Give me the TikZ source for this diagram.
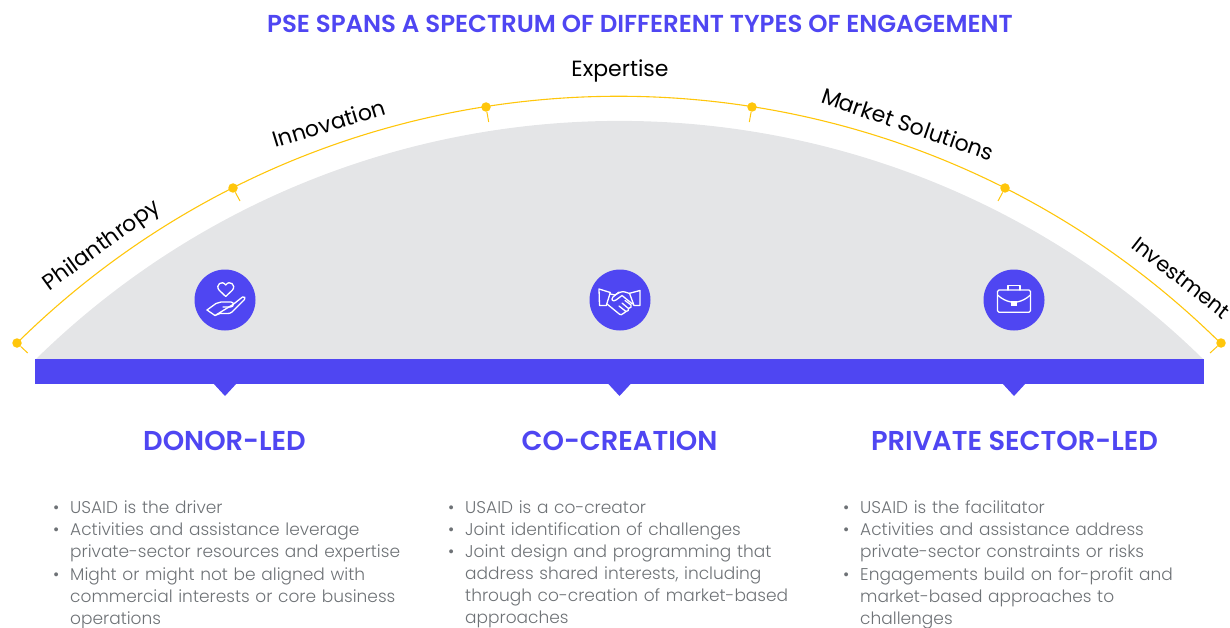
\documentclass[tikz,border=0pt]{standalone}
\usepackage{fontspec}
\setmainfont{Poppins}
\newfontfamily\semifont{Poppins SemiBold}
\newfontfamily\lightfont{Poppins Light}
\definecolor{brand}{HTML}{4F46F2}
\definecolor{sun}{HTML}{FFC60B}
\definecolor{dome}{HTML}{E4E5E7}
\definecolor{ink}{HTML}{6E7276}
\newcommand{\bl}[1]{\par\noindent\hbox to 17pt{\strut•\hfil}\parbox[t]{330pt}{\raggedright\strut #1\strut}}
\tikzset{
 arclabel/.style={font=\fontsize{22}{26}\selectfont,text=black,inner sep=0pt},
 head/.style={font=\fontsize{27.3}{32}\selectfont\semifont,text=brand,inner sep=0pt},
 titletext/.style={font=\fontsize{24.5}{30}\selectfont\semifont,text=brand,inner sep=0pt},
 body/.style={font=\fontsize{17}{22}\selectfont\lightfont,text=ink,inner sep=0pt,anchor=north west,align=left,text width=350pt},
 badge/.style={circle,fill=brand,minimum size=61pt,inner sep=0pt},
 dot/.style={circle,fill=sun,minimum size=9.5pt,inner sep=0pt},
 tick/.style={draw=sun,line width=1pt},
 icon/.style={draw=white,line width=1.3pt,line join=round,line cap=round,fill=none},
 pin/.style={fill=brand}
}
\begin{document}
\begin{tikzpicture}[x=1pt,y=-1pt]
\useasboundingbox (0,0) rectangle (1230,628);
% dome and yellow arc (concentric circles)
\fill[dome] (35,360) arc[start angle=134.5,end angle=45.5,radius=834pt] -- cycle;
\draw[sun,line width=1.1pt] (17,343) arc[start angle=134.6,end angle=45.4,radius=857pt];
% bar and pins
\node[fill=brand,minimum width=1169pt,minimum height=25pt,inner sep=0pt,anchor=north west] (bar) at (35,359) {};
\fill[pin] (213,383) -- (237,383) -- (225,396) -- cycle;
\fill[pin] (607.5,383) -- (631.5,383) -- (619.5,396) -- cycle;
\fill[pin] (1002,383) -- (1026,383) -- (1014,396) -- cycle;
% dots and ticks
\node[dot] (d1) at (17,343) {}; \coordinate (t1) at (27.7,353);
\node[dot] (d2) at (233,188) {}; \coordinate (t2) at (240,201);
\node[dot] (d3) at (486,107) {}; \coordinate (t3) at (488.7,122);
\node[dot] (d4) at (752,107) {}; \coordinate (t4) at (749.3,122);
\node[dot] (d5) at (1005,188) {}; \coordinate (t5) at (998,201);
\node[dot] (d6) at (1221,343) {}; \coordinate (t6) at (1210,353);
\foreach \i in {1,...,6} \draw[tick] (d\i) -- (t\i);
% texts
\node[titletext] (title) at (640,24) {PSE SPANS A SPECTRUM OF DIFFERENT TYPES OF ENGAGEMENT};
\node[arclabel,rotate=36] (l1) at (102,246) {Philanthropy};
\node[arclabel,rotate=17] (l2) at (329,123) {Innovation};
\node[arclabel] (l3) at (620,71) {Expertise};
\node[arclabel,rotate=-19] (l4) at (908,124) {Market Solutions};
\node[arclabel,rotate=-38,font=\fontsize{21}{25}\selectfont] (l5) at (1181,278) {Investment};
% badges
\node[badge] (b1) at (225,300) {};
\node[badge] (b2) at (620,300) {};
\node[badge] (b3) at (1014,300) {};
% hand and heart
\begin{scope}[shift={(225,300)}]
\draw[icon] (0.7,-3.5) -- (-6,-10) .. controls (-10,-15) and (-3,-20.5) .. (0.7,-15) .. controls (4.5,-20.5) and (11.5,-15) .. (7.5,-10) -- cycle;
\draw[icon] (-18,10) -- (-9,3.5) .. controls (-7,2) and (-6,2) .. (-4,2) -- (6,2) .. controls (9.5,2) and (9,7) .. (5.5,7) -- (-2,7);
\draw[icon] (8,4.5) -- (17.5,-3) .. controls (19.5,-4) and (21,-2) .. (19.5,-0.5) -- (7,12) .. controls (5.5,13.5) and (4,13.5) .. (2,13.5) -- (-5,13.5) -- (-10,15.5) -- cycle;
\draw[icon] (-18,10) -- (-10,15.5);
\end{scope}
% handshake
\begin{scope}[shift={(620,300)}]
\draw[icon] (-21,-11) -- (-9.7,-7.5) -- (-13.7,5.5) -- (-20.5,5.5) -- cycle;
\draw[icon] (20,-9.5) -- (9.5,-6.7) -- (14,5.5) -- (20,5.5) -- cycle;
\draw[icon] (-9.7,-6) -- (-5,-5) .. controls (-1,-7.5) and (2,-9) .. (5,-8) -- (9.7,-6.5);
\draw[icon] (12.5,4) -- (2,-4.5) -- (-4,0) .. controls (-7,2) and (-9.5,0) .. (-7,-3) -- (-1,-8);
\draw[icon] (-13,4) -- (-2,13) .. controls (0,15.5) and (3,15) .. (4,13) -- (6,11.5) -- (-1,6);
\draw[icon] (6,11.5) .. controls (8,11.5) and (9,10) .. (8.5,8.5) -- (2,3);
\draw[icon] (8.5,8.5) .. controls (11,8.5) and (12,6) .. (11,5) -- (5,0.5);
\end{scope}
% briefcase
\begin{scope}[shift={(1014,300)}]
\draw[icon,rounded corners=1.5pt] (-16.5,-10) rectangle (16.5,12.3);
\draw[icon] (-6,-10) -- (-6,-14.2) -- (6,-14.2) -- (6,-10);
\draw[icon] (-16.5,-5) .. controls (-12,-1) and (-8,1) .. (-3,2);
\draw[icon] (16.5,-5) .. controls (12,-1) and (8,1) .. (3,2);
\fill[white] (-2.6,0.5) rectangle (2.6,5.5);
\end{scope}
% headings
\node[head] (h1) at (224.5,441) {DONOR-LED};
\node[head] (h2) at (619.5,441) {CO-CREATION};
\node[head] (h3) at (1014.5,441) {PRIVATE SECTOR-LED};
% bullet lists
\node[body] (c1) at (53,491) {\bl{USAID is the driver}\bl{Activities and assistance leverage\\private-sector resources and expertise}\bl{Might or might not be aligned with\\commercial interests or core business\\operations}};
\node[body] (c2) at (448,491) {\bl{USAID is a co-creator}\bl{Joint identification of challenges}\bl{Joint design and programming that\\address shared interests, including\\through co-creation of market-based\\approaches}};
\node[body] (c3) at (843,491) {\bl{USAID is the facilitator}\bl{Activities and assistance address\\private-sector constraints or risks}\bl{Engagements build on for-profit and\\market-based approaches to\\challenges}};
\end{tikzpicture}
\end{document}
